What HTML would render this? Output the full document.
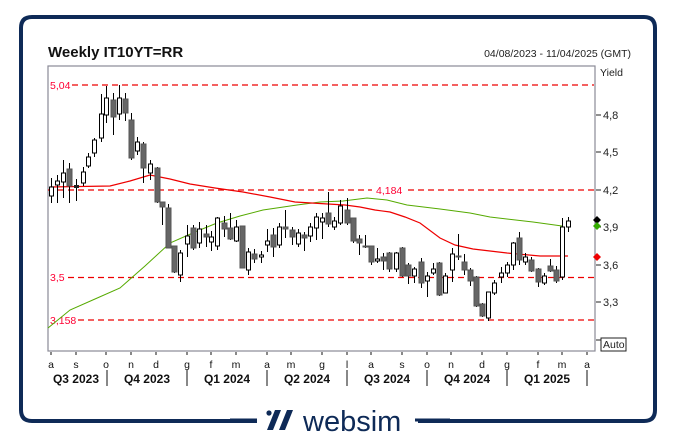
<!DOCTYPE html>
<html><head><meta charset="utf-8"><style>
html,body{margin:0;padding:0;background:#fff;width:676px;height:444px;overflow:hidden}
svg{display:block;font-family:"Liberation Sans",Arial,sans-serif}
</style></head><body>
<svg width="676" height="444" viewBox="0 0 676 444" xmlns="http://www.w3.org/2000/svg">
<path d="M257 421 H32 Q21 421 21 410 V28 Q21 17 32 17 H644 Q655 17 655 28 V410 Q655 421 644 421 H418" fill="none" stroke="#0e2a57" stroke-width="4"/>
<text x="48" y="57" font-size="15" font-weight="bold" fill="#111">Weekly IT10YT=RR</text>
<text x="631" y="57" font-size="10.5" fill="#222" text-anchor="end">04/08/2023 - 11/04/2025 (GMT)</text>
<rect x="48" y="66" width="547" height="285" fill="#fff" stroke="#8a8a96" stroke-width="1.2"/>
<text x="600" y="76" font-size="10.5" fill="#222">Yield</text>
<g stroke="#222" stroke-width="1"><line x1="596" y1="115" x2="601" y2="115"/><line x1="596" y1="152" x2="601" y2="152"/><line x1="596" y1="190" x2="601" y2="190"/><line x1="596" y1="227" x2="601" y2="227"/><line x1="596" y1="265" x2="601" y2="265"/><line x1="596" y1="302" x2="601" y2="302"/><line x1="596" y1="340" x2="601" y2="340"/></g>
<g font-size="11" fill="#222"><text x="603" y="119">4,8</text><text x="603" y="156">4,5</text><text x="603" y="194">4,2</text><text x="603" y="231">3,9</text><text x="603" y="269">3,6</text><text x="603" y="306">3,3</text></g>
<rect x="601" y="338" width="25" height="13" fill="#fff" stroke="#222"/><text x="603" y="348" font-size="10.5" fill="#222">Auto</text>
<g stroke="#e00" stroke-width="1.2" stroke-dasharray="6,4"><line x1="72" y1="85" x2="594" y2="85"/><line x1="48" y1="190" x2="372" y2="190"/><line x1="408" y1="190" x2="594" y2="190"/><line x1="68" y1="277.5" x2="594" y2="277.5"/><line x1="78" y1="320" x2="594" y2="320"/></g>
<g font-size="10.5" fill="#f03"><text x="50" y="89">5,04</text><text x="376" y="194">4,184</text><text x="50" y="281">3,5</text><text x="50" y="324">3,158</text></g>
<polyline fill="none" stroke="#5a0" stroke-width="1" points="48,328 70,310 95,299 120,288 145,266 170,243 195,232 217,223 240,216 263,210 297,205 320,202 343,201 367,198 387,200 407,205 440,209 470,213 490,217 533,222 562,226"/>
<polyline fill="none" stroke="#e00" stroke-width="1.2" points="50,187 110,186 130,181 150,175 170,179 190,184 215,188 243,192 270,197 295,202 328,204 345,205 360,207 375,210 390,212 405,217 420,223 440,238 455,245 473,249 490,251 507,253 540,256 568,256"/>
<g id="c" stroke="#000" stroke-width="1"></g>
<g font-size="10.5" fill="#111" text-anchor="middle">
<text x="51" y="368">a</text><text x="76" y="368">s</text><text x="106" y="368">o</text><text x="131" y="368">n</text><text x="156" y="368">d</text><text x="187" y="368">g</text><text x="211" y="368">f</text><text x="236" y="368">m</text><text x="267" y="368">a</text><text x="291" y="368">m</text><text x="322" y="368">g</text><text x="347" y="368">l</text><text x="371" y="368">a</text><text x="402" y="368">s</text><text x="427" y="368">o</text><text x="451" y="368">n</text><text x="482" y="368">d</text><text x="507" y="368">g</text><text x="538" y="368">f</text><text x="562" y="368">m</text><text x="587" y="368">a</text></g>
<g stroke="#111" stroke-width="1"><line x1="51" y1="352" x2="51" y2="355"/><line x1="76" y1="352" x2="76" y2="355"/><line x1="106" y1="352" x2="106" y2="355"/><line x1="131" y1="352" x2="131" y2="355"/><line x1="156" y1="352" x2="156" y2="355"/><line x1="187" y1="352" x2="187" y2="355"/><line x1="211" y1="352" x2="211" y2="355"/><line x1="236" y1="352" x2="236" y2="355"/><line x1="267" y1="352" x2="267" y2="355"/><line x1="291" y1="352" x2="291" y2="355"/><line x1="322" y1="352" x2="322" y2="355"/><line x1="347" y1="352" x2="347" y2="355"/><line x1="371" y1="352" x2="371" y2="355"/><line x1="402" y1="352" x2="402" y2="355"/><line x1="427" y1="352" x2="427" y2="355"/><line x1="451" y1="352" x2="451" y2="355"/><line x1="482" y1="352" x2="482" y2="355"/><line x1="507" y1="352" x2="507" y2="355"/><line x1="538" y1="352" x2="538" y2="355"/><line x1="562" y1="352" x2="562" y2="355"/><line x1="587" y1="352" x2="587" y2="355"/>
<line x1="107" y1="370" x2="107" y2="386"/><line x1="187" y1="370" x2="187" y2="386"/><line x1="267" y1="370" x2="267" y2="386"/><line x1="347" y1="370" x2="347" y2="386"/><line x1="427" y1="370" x2="427" y2="386"/><line x1="507" y1="370" x2="507" y2="386"/><line x1="587" y1="370" x2="587" y2="386"/></g>
<g font-size="12" font-weight="bold" fill="#111" text-anchor="middle"><text x="76" y="383">Q3 2023</text><text x="147" y="383">Q4 2023</text><text x="227" y="383">Q1 2024</text><text x="307" y="383">Q2 2024</text><text x="387" y="383">Q3 2024</text><text x="467" y="383">Q4 2024</text><text x="547" y="383">Q1 2025</text></g>
<path d="M597 216 l4 4 l-4 4 l-4 -4z" fill="#000"/><path d="M597 222 l4 4 l-4 4 l-4 -4z" fill="#3a0"/><path d="M597 253 l4 4 l-4 4 l-4 -4z" fill="#e00"/>
<line x1="230" y1="420" x2="257" y2="420" stroke="#0e2a57" stroke-width="3"/>
<line x1="415" y1="420" x2="450" y2="420" stroke="#0e2a57" stroke-width="3"/>
<circle cx="269" cy="413" r="2.6" fill="#0e2a57"/>
<path d="M275 410 h6 l-8 20 h-6z M287 410 h6 l-8 20 h-6z" fill="#0e2a57"/>
<text x="303" y="431" font-size="29" fill="#0e2a57">websim</text>
</svg>
<script>
var d=[[51,187,196,178,203,1],[57,181,185,175,203,1],[63,173,182,160,198,1],[69,169,186,163,203,0],[76,185,187,179,201,2],[83,172,183,167,186,1],[88,157,166,153,168,1],[94,140,153,138,157,1],[101,114,138,94,142,1],[106,98,115,86,123,1],[113,100,117,93,135,0],[119,98,114,85,120,1],[125,99,113,93,121,0],[131,120,158,113,160,0],[137,142,151,137,155,1],[143,144,168,142,183,0],[150,164,173,160,180,1],[157,168,202,167,203,0],[162,202,207,202,225,0],[168,208,248,204,248,0],[174,246,272,246,273,0],[180,253,275,250,282,1],[187,236,244,225,257,1],[193,228,248,225,250,0],[199,229,243,222,248,1],[206,234,237,225,247,0],[211,237,242,231,251,1],[217,218,246,217,250,1],[224,223,229,216,237,0],[230,228,239,213,240,0],[236,227,241,220,242,1],[242,226,268,226,268,0],[248,252,270,248,275,1],[254,254,259,249,263,0],[261,255,257,251,263,1],[267,241,245,229,252,1],[273,235,247,228,257,0],[279,227,245,223,248,1],[285,227,229,210,238,0],[292,230,237,227,245,0],[298,233,244,229,247,1],[304,235,238,232,251,0],[310,227,236,223,242,1],[316,217,228,213,240,1],[322,218,222,213,239,1],[328,213,224,192,227,0],[334,221,227,217,230,1],[340,206,223,200,225,1],[347,210,223,198,225,0],[353,218,241,218,243,0],[359,239,243,235,255,0],[365,246,247,235,248,0],[371,246,262,246,265,0],[377,259,261,248,263,1],[383,257,261,253,270,0],[389,253,269,252,272,0],[396,253,269,252,272,1],[402,248,276,247,277,0],[408,265,276,263,284,0],[414,269,276,267,283,1],[421,262,283,258,288,0],[427,276,281,272,297,1],[433,269,273,263,275,1],[439,263,295,262,296,0],[445,276,293,273,293,1],[452,254,270,248,282,1],[458,256,257,234,260,0],[464,262,270,254,275,0],[470,270,281,268,286,0],[476,277,306,276,307,0],[482,304,316,303,317,0],[488,292,318,292,321,1],[494,283,293,280,295,1],[501,273,277,267,283,1],[507,265,273,262,277,1],[513,243,265,242,270,1],[519,238,260,232,265,0],[525,257,262,253,265,1],[531,260,271,257,272,0],[538,269,282,268,287,0],[544,276,283,273,285,1],[550,266,271,259,272,0],[556,270,281,266,283,0],[562,227,277,218,280,1],[568,221,227,217,232,1]];
var g=document.getElementById('c'),s='';
d.forEach(function(c){var x=c[0];s+='<line x1="'+(x+.5)+'" y1="'+c[3]+'" x2="'+(x+.5)+'" y2="'+c[4]+'"/>';var h=Math.max(c[2]-c[1],1);
if(c[5]==1)s+='<rect x="'+(x-1.5)+'" y="'+c[1]+'" width="4" height="'+h+'" fill="#fff"/>';
else if(c[5]==2)s+='<rect x="'+(x-2)+'" y="'+c[1]+'" width="5" height="'+(h+1)+'" fill="#222" stroke="none"/>';
else s+='<rect x="'+(x-2)+'" y="'+c[1]+'" width="5" height="'+h+'" fill="#666" stroke="#555"/>';});
g.innerHTML=s;
</script>
</body></html>
